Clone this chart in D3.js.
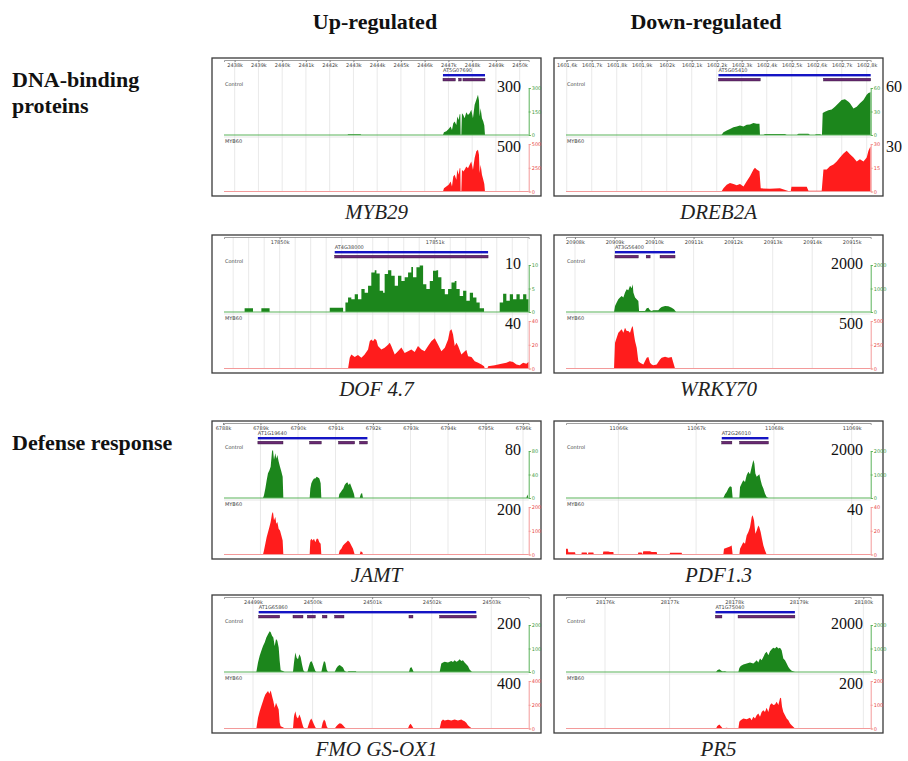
<!DOCTYPE html>
<html>
<head>
<meta charset="utf-8">
<script src="https://cdn.jsdelivr.net/npm/d3@7"></script>
<style>
  body { margin: 0; background: #fff; }
  svg { display: block; }
  .head { font-family: "Liberation Serif", serif; font-weight: bold; font-size: 22px; fill: #111; }
  .gene { font-family: "Liberation Serif", serif; font-style: italic; font-size: 21px; fill: #222; }
  .big { font-family: "Liberation Serif", serif; font-size: 16px; fill: #111; }
  .tiny { font-family: "DejaVu Sans", sans-serif; font-size: 5px; fill: #444; }
</style>
</head>
<body>
<svg id="fig" width="908" height="761"></svg>
<script>
// ---- data ----
var geneNames = ["MYB29", "DREB2A", "DOF 4.7", "WRKY70", "JAMT", "PDF1.3", "FMO GS-OX1", "PR5"];
var locusIds = ["AT5G07690", "AT5G05410", "AT4G38000", "AT3G56400", "AT1G19640", "AT2G26010", "AT1G65860", "AT1G75040"];
var controlMax = [300, 60, 10, 2000, 80, 2000, 200, 2000];
var myb60Max = [500, 30, 40, 500, 200, 40, 400, 200];

// visible window of each browser view, kb
var viewRange = [[2437.55, 2450.38], [1601.597, 1602.816], [17849.641, 17851.606], [20907.772, 20915.479],
                 [6788.027, 6796.151], [11065.327, 11069.245], [24498.513, 24503.628], [28175.396, 28180.114]];

var tickLabels = [
  ["2438k","2439k","2440k","2441k","2442k","2443k","2444k","2445k","2446k","2447k","2448k","2449k","2450k"],
  ["1601,6k","1601,7k","1601,8k","1601,9k","1602k","1602,1k","1602,2k","1602,3k","1602,4k","1602,5k","1602,6k","1602,7k","1602,8k"],
  ["17850k","17851k"],
  ["20908k","20909k","20910k","20911k","20912k","20913k","20914k","20915k"],
  ["6788k","6789k","6790k","6791k","6792k","6793k","6794k","6795k","6796k"],
  ["11066k","11067k","11068k","11069k"],
  ["24499k","24500k","24501k","24502k","24503k"],
  ["28176k","28177k","28178k","28179k","28180k"]
];
var gridStep = [1, 0.1, 0.1, 1, 1, 1, 1, 1];

var geneSpan = [[2446.77, 2448.54], [1602.207, 1602.816], [17850.355, 17851.344], [20909.01, 20910.53],
                [6788.93, 6791.85], [11067.33, 11067.93], [24499.095, 24502.748], [28177.71, 28178.94]];
var exonSpans = [
  [[2446.77, 2447.29], [2447.43, 2447.54], [2447.61, 2448.54]],
  [[1602.207, 1602.374], [1602.627, 1602.816]],
  [[17850.355, 17851.344]],
  [[20909.01, 20909.60], [20909.80, 20909.90], [20910.15, 20910.53]],
  [[6788.93, 6789.60], [6790.31, 6790.62], [6791.08, 6791.51], [6791.64, 6791.85]],
  [[11067.33, 11067.46], [11067.56, 11067.93]],
  [[24499.095, 24499.448], [24499.671, 24499.839], [24499.912, 24500.046], [24500.164, 24500.242],
   [24500.371, 24500.527], [24501.618, 24501.685], [24502.133, 24502.748]],
  [[28177.71, 28177.81], [28178.06, 28178.94]]
];

// coverage tracks: [kb, reads]
var myb29Control = [[2442.75,0],[2442.78,4],[2443.30,4],[2443.33,0],
  [2446.770,0],[2446.812,17],[2446.911,24],[2447.009,39],[2447.093,54],[2447.149,32],[2447.205,75],[2447.261,86],
  [2447.332,64],[2447.374,118],[2447.430,96],[2447.472,133],[2447.500,133],[2447.514,0],[2447.542,0],[2447.570,139],
  [2447.626,128],[2447.682,107],[2447.753,146],[2447.823,128],[2447.893,139],[2447.963,161],[2448.033,107],[2448.104,193],
  [2448.174,225],[2448.244,257],[2448.286,220],[2448.314,118],[2448.356,171],[2448.412,107],[2448.468,86],[2448.511,60],[2448.539,0]];
var myb29Myb60 = [[2446.770,0],[2446.812,35],[2446.911,53],[2447.009,70],[2447.093,106],[2447.149,53],[2447.205,158],[2447.261,176],
  [2447.332,123],[2447.374,229],[2447.430,176],[2447.472,246],[2447.500,246],[2447.514,0],[2447.542,0],[2447.570,229],
  [2447.626,211],[2447.682,229],[2447.753,264],[2447.823,246],[2447.893,282],[2447.963,317],[2448.033,229],[2448.104,352],
  [2448.174,423],[2448.244,440],[2448.286,387],[2448.314,194],[2448.356,282],[2448.412,176],[2448.468,123],[2448.511,80],[2448.539,0]];

var dreb2aControl = [[1602.219,0],[1602.227,3.5],[1602.240,5.6],[1602.253,7.8],[1602.267,10],[1602.280,10.9],[1602.293,12.2],
  [1602.307,10.9],[1602.320,13],[1602.333,13.5],[1602.347,15.2],[1602.360,14.3],[1602.371,14.3],[1602.373,0],[1602.387,0],
  [1602.393,1.3],[1602.473,1.3],[1602.480,0],[1602.520,0],[1602.527,1.7],[1602.567,1.7],[1602.573,0],[1602.593,0],[1602.597,1],
  [1602.613,1],[1602.619,0],[1602.621,0],[1602.624,28],[1602.633,29.6],[1602.647,31.7],[1602.660,32.6],[1602.673,36],
  [1602.687,40.4],[1602.700,44.8],[1602.713,45.7],[1602.727,42.6],[1602.733,40.4],[1602.747,33.9],[1602.760,36],
  [1602.773,40.4],[1602.787,44.8],[1602.800,51.3],[1602.807,53.5],[1602.813,54.3],[1602.816,55]];
var dreb2aMyb60 = [[1602.219,0],[1602.227,2.1],[1602.240,4.3],[1602.253,5.4],[1602.267,4.7],[1602.280,3.9],[1602.293,4.7],
  [1602.307,3.2],[1602.320,6.4],[1602.333,9.6],[1602.347,13.9],[1602.353,15],[1602.360,13.9],[1602.371,12.8],[1602.376,2],
  [1602.413,1.7],[1602.453,2],[1602.483,0.4],[1602.496,0],[1602.499,3],[1602.560,3],[1602.567,0.4],[1602.620,0.4],
  [1602.627,13.9],[1602.640,13.9],[1602.653,16],[1602.667,17],[1602.680,19],[1602.693,21.4],[1602.707,24],[1602.720,25.7],
  [1602.733,23.5],[1602.747,21.4],[1602.760,19],[1602.773,20.3],[1602.787,19],[1602.800,21.4],[1602.807,25.7],
  [1602.813,27.8],[1602.816,28.3]];

var dofControl = [[17849.774,0.8],[17849.828,0],[17849.882,0.8],[17849.935,0],[17850.323,0.9],[17850.409,0],[17850.424,2.0],
  [17850.441,3.1],[17850.462,2.7],[17850.484,3.8],[17850.505,2.7],[17850.527,4.9],[17850.548,4.1],[17850.570,5.6],
  [17850.591,8.4],[17850.613,8.9],[17850.624,8.2],[17850.645,4.5],[17850.667,4.1],[17850.677,8.1],[17850.699,8.9],
  [17850.720,7.7],[17850.742,5.6],[17850.763,7.7],[17850.785,6.6],[17850.806,7.4],[17850.828,8.4],[17850.849,9.6],
  [17850.860,7.4],[17850.882,9.5],[17850.903,9.9],[17850.925,5.9],[17850.946,4.9],[17850.968,6.6],[17850.989,8.8],
  [17851.011,8.9],[17851.022,7.4],[17851.043,4.9],[17851.065,3.8],[17851.086,4.9],[17851.108,6.3],[17851.129,6.6],
  [17851.140,4.9],[17851.161,3.4],[17851.183,4.5],[17851.204,2.4],[17851.226,4.1],[17851.247,3.1],[17851.269,2.0],
  [17851.290,0.8],[17851.318,0],[17851.419,2.0],[17851.441,3.9],[17851.462,2.4],[17851.484,3.8],[17851.505,2.7],
  [17851.527,3.8],[17851.548,2.7],[17851.570,3.8],[17851.591,2.7],[17851.606,2.7]];
var dofMyb60 = [[17850.441,0],[17850.452,9],[17850.462,11.8],[17850.484,9.6],[17850.505,11.3],[17850.527,9],[17850.548,11.8],
  [17850.570,16],[17850.581,23],[17850.591,24.5],[17850.602,23],[17850.613,25],[17850.624,23.7],[17850.634,19],[17850.656,16],
  [17850.677,17.5],[17850.699,20],[17850.710,21.7],[17850.720,19],[17850.742,11.8],[17850.763,14.6],[17850.785,17.7],
  [17850.806,13],[17850.828,14.6],[17850.849,16],[17850.871,14],[17850.892,19],[17850.914,16],[17850.935,14.6],
  [17850.957,19],[17850.978,23],[17851.000,25.4],[17851.022,20],[17851.043,14.6],[17851.065,17.5],[17851.086,24.5],
  [17851.097,31.5],[17851.108,33],[17851.118,28.7],[17851.129,19],[17851.140,21.7],[17851.151,19],[17851.172,11.8],
  [17851.194,14.6],[17851.204,15.5],[17851.215,10.4],[17851.237,9.6],[17851.258,6.2],[17851.280,4.8],[17851.301,3.4],
  [17851.318,2],[17851.323,0],[17851.340,0],[17851.344,2],[17851.387,2.8],[17851.430,4],[17851.462,4.8],[17851.484,6.2],
  [17851.505,5.4],[17851.527,3.4],[17851.548,2.8],[17851.570,4.8],[17851.591,4],[17851.606,5.6]];

var wrky70Control = [[20908.987,0],[20909.012,257],[20909.054,400],[20909.096,543],[20909.138,614],[20909.180,686],
  [20909.223,614],[20909.265,829],[20909.307,971],[20909.349,929],[20909.391,1114],[20909.433,1014],[20909.459,1186],
  [20909.476,829],[20909.518,614],[20909.560,543],[20909.602,471],[20909.620,40],[20909.771,43],[20909.813,157],
  [20909.855,186],[20909.897,71],[20909.939,43],[20909.981,71],[20910.108,71],[20910.150,157],[20910.192,214],
  [20910.277,257],[20910.361,243],[20910.445,186],[20910.504,114],[20910.555,0]];
var wrky70Myb60 = [[20908.987,0],[20909.012,271],[20909.054,324],[20909.096,377],[20909.138,394],[20909.180,412],
  [20909.223,377],[20909.265,429],[20909.307,394],[20909.349,394],[20909.391,377],[20909.433,429],[20909.459,447],
  [20909.493,352],[20909.518,289],[20909.560,218],[20909.602,77],[20909.644,60],[20909.728,42],[20909.813,113],
  [20909.855,120],[20909.897,60],[20909.939,42],[20909.981,35],[20910.066,42],[20910.150,95],[20910.192,113],
  [20910.277,123],[20910.361,113],[20910.445,120],[20910.487,60],[20910.530,0]];

var jamtControl = [[6789.067,0],[6789.093,4.6],[6789.129,16],[6789.164,30],[6789.200,42],[6789.236,47],[6789.271,53],
  [6789.307,79],[6789.333,82],[6789.360,65],[6789.396,76],[6789.422,67],[6789.449,73],[6789.484,62],[6789.520,53],
  [6789.556,45],[6789.591,36],[6789.609,0],[6790.311,0],[6790.329,16],[6790.356,25],[6790.391,30],[6790.427,33],
  [6790.462,33],[6790.498,36],[6790.533,35],[6790.569,33],[6790.604,25],[6790.622,0],[6791.084,0],[6791.102,7],
  [6791.138,10],[6791.173,13],[6791.209,16],[6791.244,22],[6791.280,25],[6791.316,27],[6791.351,22],[6791.387,25],
  [6791.422,19],[6791.458,13],[6791.493,7],[6791.511,0],[6791.644,0],[6791.671,6],[6791.707,9],[6791.733,0],
  [6796.089,0],[6796.116,6],[6796.142,0]];
var jamtMyb60 = [[6789.067,0],[6789.093,17],[6789.129,45],[6789.164,73],[6789.200,94],[6789.236,115],[6789.271,137],
  [6789.307,172],[6789.333,179],[6789.360,144],[6789.396,158],[6789.422,130],[6789.449,137],[6789.484,108],[6789.520,101],
  [6789.556,80],[6789.591,59],[6789.609,0],[6790.311,0],[6790.329,59],[6790.356,66],[6790.391,59],[6790.427,66],
  [6790.462,52],[6790.498,66],[6790.533,66],[6790.569,52],[6790.604,45],[6790.622,0],[6791.084,0],[6791.111,17],
  [6791.156,24],[6791.200,38],[6791.244,45],[6791.289,52],[6791.333,59],[6791.378,52],[6791.422,38],[6791.467,24],
  [6791.511,0],[6791.644,0],[6791.671,14],[6791.716,10],[6791.733,0]];

var pdfControl = [[11067.350,0],[11067.372,157],[11067.393,257],[11067.414,400],[11067.436,500],[11067.457,471],
  [11067.470,0],[11067.556,0],[11067.565,471],[11067.586,614],[11067.607,757],[11067.629,686],[11067.650,971],
  [11067.672,1114],[11067.693,1014],[11067.715,1329],[11067.736,1614],[11067.749,1471],[11067.762,1043],[11067.779,900],
  [11067.800,971],[11067.813,1014],[11067.830,757],[11067.847,543],[11067.865,400],[11067.886,186],[11067.907,43],
  [11067.929,0]];
var pdfMyb60 = [[11065.327,4.8],[11065.350,4.8],[11065.357,2],[11065.443,2],[11065.450,0],[11065.525,0],[11065.529,1.7],
  [11065.593,1.7],[11065.600,0],[11065.610,0],[11065.614,1.7],[11065.679,1.7],[11065.685,0],[11065.800,0],[11065.807,2.5],
  [11065.871,2.5],[11065.893,2.2],[11065.936,2.2],[11065.940,0],[11066.250,0],[11066.257,1.7],[11066.300,1.7],
  [11066.310,0],[11066.321,2.8],[11066.407,2.8],[11066.429,2.2],[11066.493,2.2],[11066.500,0],[11066.660,0],
  [11066.664,1.4],[11066.814,1.4],[11066.820,0],
  [11067.350,0],[11067.359,4.8],[11067.393,5.6],[11067.436,6.8],[11067.457,7.6],[11067.470,0],[11067.556,0],
  [11067.565,4.8],[11067.586,7.6],[11067.607,10.4],[11067.629,9],[11067.650,16],[11067.672,18.9],[11067.693,23],
  [11067.715,31.5],[11067.727,33],[11067.745,28.7],[11067.762,17.5],[11067.779,20.3],[11067.800,24.5],[11067.813,23],
  [11067.830,18.9],[11067.847,13.2],[11067.865,7.6],[11067.886,3.4],[11067.907,0]];

var fmoControl = [[24499.056,0],[24499.084,40],[24499.112,69],[24499.140,90],[24499.168,111],[24499.196,126],
  [24499.224,147],[24499.252,161],[24499.280,173],[24499.297,169],[24499.319,154],[24499.341,147],[24499.364,111],
  [24499.386,140],[24499.408,133],[24499.431,104],[24499.448,47],[24499.464,7],[24499.503,4],[24499.531,0],
  [24499.671,0],[24499.688,40],[24499.710,83],[24499.733,61],[24499.755,54],[24499.778,76],[24499.800,64],[24499.822,33],
  [24499.845,7],[24499.867,0],[24499.912,0],[24499.934,21],[24499.957,40],[24499.979,47],[24500.001,36],[24500.024,19],
  [24500.046,4],[24500.063,0],[24500.147,0],[24500.169,26],[24500.192,47],[24500.214,40],[24500.236,11],[24500.259,0],
  [24500.371,0],[24500.399,16],[24500.427,26],[24500.455,30],[24500.483,24],[24500.510,19],[24500.538,4],[24500.566,0],
  [24500.594,0],[24500.600,3],[24500.728,3],[24500.734,0],[24501.618,0],[24501.635,16],[24501.657,21],[24501.679,11],
  [24501.696,0],[24502.133,0],[24502.161,36],[24502.189,40],[24502.217,44],[24502.273,40],[24502.301,44],[24502.329,47],
  [24502.357,43],[24502.385,50],[24502.413,44],[24502.441,47],[24502.469,54],[24502.497,47],[24502.524,50],[24502.552,40],
  [24502.580,33],[24502.608,26],[24502.636,11],[24502.676,0]];
var fmoMyb60 = [[24499.056,0],[24499.084,90],[24499.112,146],[24499.140,189],[24499.168,231],[24499.185,259],
  [24499.207,287],[24499.229,301],[24499.252,315],[24499.274,293],[24499.297,321],[24499.319,273],[24499.341,231],
  [24499.364,175],[24499.386,217],[24499.408,189],[24499.431,161],[24499.448,48],[24499.464,20],[24499.503,11],
  [24499.531,0],[24499.671,0],[24499.688,104],[24499.710,146],[24499.733,96],[24499.755,84],[24499.778,118],[24499.800,90],
  [24499.822,48],[24499.845,11],[24499.867,0],[24499.912,0],[24499.934,34],[24499.957,68],[24499.979,84],[24500.001,62],
  [24500.024,34],[24500.046,11],[24500.063,0],[24500.147,0],[24500.169,48],[24500.192,76],[24500.214,62],[24500.236,20],
  [24500.259,0],[24500.371,0],[24500.399,20],[24500.427,34],[24500.455,45],[24500.483,39],[24500.510,28],[24500.538,11],
  [24500.566,0],[24501.601,0],[24501.623,28],[24501.646,39],[24501.668,23],[24501.696,0],[24502.133,0],[24502.161,62],
  [24502.189,76],[24502.217,68],[24502.273,73],[24502.329,68],[24502.385,76],[24502.441,68],[24502.497,76],[24502.524,68],
  [24502.552,62],[24502.580,48],[24502.608,28],[24502.636,14],[24502.676,0]];

var pr5Control = [[28177.719,0],[28177.739,71],[28177.770,114],[28177.801,57],[28177.822,20],[28177.858,28],[28177.884,0],
  [28178.065,0],[28178.080,171],[28178.101,257],[28178.142,314],[28178.194,357],[28178.245,400],[28178.297,357],
  [28178.323,429],[28178.348,500],[28178.374,400],[28178.400,571],[28178.426,500],[28178.452,643],[28178.477,786],
  [28178.503,857],[28178.529,714],[28178.555,886],[28178.581,971],[28178.606,1029],[28178.632,1000],[28178.658,1071],
  [28178.684,1000],[28178.710,1029],[28178.735,929],[28178.761,571],[28178.787,500],[28178.813,357],[28178.839,214],
  [28178.865,114],[28178.890,57],[28178.942,0]];
var pr5Myb60 = [[28177.719,0],[28177.739,11],[28177.770,17],[28177.801,7],[28177.822,0],[28177.884,3],[28177.935,0],
  [28178.065,0],[28178.080,28],[28178.101,35],[28178.142,42],[28178.194,39],[28178.245,45],[28178.271,35],[28178.297,49],
  [28178.323,42],[28178.348,56],[28178.374,63],[28178.400,49],[28178.426,70],[28178.452,77],[28178.477,70],[28178.503,87],
  [28178.529,70],[28178.555,99],[28178.581,106],[28178.606,99],[28178.632,101],[28178.658,113],[28178.684,99],
  [28178.710,127],[28178.725,130],[28178.741,92],[28178.761,70],[28178.787,56],[28178.813,42],[28178.839,35],
  [28178.865,21],[28178.890,14],[28178.942,0]];

var controlTracks = [myb29Control, dreb2aControl, dofControl, wrky70Control, jamtControl, pdfControl, fmoControl, pr5Control];
var myb60Tracks = [myb29Myb60, dreb2aMyb60, dofMyb60, wrky70Myb60, jamtMyb60, pdfMyb60, fmoMyb60, pr5Myb60];

// ---- layout ----
var svg = d3.select("#fig");
var panelW = 329, panelH = 138;
var colX = [212, 554], rowY = [58, 235, 421, 595];

svg.append("text").attr("class", "head").attr("x", 375).attr("y", 29).attr("text-anchor", "middle").text("Up-regulated");
svg.append("text").attr("class", "head").attr("x", 706).attr("y", 29).attr("text-anchor", "middle").text("Down-regulated");
svg.append("text").attr("class", "head").attr("x", 12).attr("y", 87).text("DNA-binding");
svg.append("text").attr("class", "head").attr("x", 12).attr("y", 113).text("proteins");
svg.append("text").attr("class", "head").attr("x", 12).attr("y", 450).text("Defense response");

geneNames.forEach(function(name, i) {
    var x0 = colX[i % 2], y0 = rowY[Math.floor(i / 2)];
    var left = x0 + 12, right = x0 + 316.7;
    var g = svg.append("g");

    g.append("rect")
        .attr("x", x0).attr("y", y0).attr("width", panelW).attr("height", panelH)
        .attr("fill", "#fff").attr("stroke", "#3a3a3a").attr("stroke-width", 1.3);

    var x = d3.scaleLinear().domain(viewRange[i]).range([left, right]);
    var yC = d3.scaleLinear().domain([0, controlMax[i]]).range([y0 + 77, y0 + 30]);
    var yM = d3.scaleLinear().domain([0, myb60Max[i]]).range([y0 + 133.5, y0 + 86]);

    // grid
    var step = gridStep[i];
    var grid = d3.range(Math.ceil(viewRange[i][0] / step - 1e-6), Math.floor(viewRange[i][1] / step + 1e-6) + 1)
        .map(function(k) { return k * step; });
    g.selectAll("line.grid").data(grid).enter().append("line")
        .attr("x1", function(d) { return x(d); }).attr("x2", function(d) { return x(d); })
        .attr("y1", y0 + 2).attr("y2", y0 + 133.5)
        .attr("stroke", "#e3e3e3").attr("stroke-width", 0.8);

    g.append("line").attr("x1", left).attr("x2", right).attr("y1", y0 + 79).attr("y2", y0 + 79)
        .attr("stroke", "#e0e0e0").attr("stroke-width", 0.8);

    // top ruler
    var ticks = tickLabels[i].map(function(t) { return +t.replace(",", ".").replace("k", ""); });
    var top = g.append("g").attr("transform", "translate(0," + (y0 + 2) + ")")
        .call(d3.axisBottom(x).tickValues(ticks)
            .tickFormat(function(d, j) { return tickLabels[i][j]; })
            .tickSize(2).tickPadding(1.5));
    top.select(".domain").attr("stroke", "#888").attr("stroke-width", 0.8);
    top.selectAll(".tick line").attr("stroke", "#888");
    top.selectAll("text").attr("class", "tiny").attr("font-size", null).attr("font-family", null);

    // gene model
    g.append("text").attr("class", "tiny").attr("x", x(geneSpan[i][0])).attr("y", y0 + 14).text(locusIds[i]);
    g.append("rect")
        .attr("x", x(geneSpan[i][0])).attr("y", y0 + 16)
        .attr("width", x(geneSpan[i][1]) - x(geneSpan[i][0])).attr("height", 2.4)
        .attr("fill", "#1414c4");
    g.selectAll("rect.exon").data(exonSpans[i]).enter().append("rect")
        .attr("x", function(d) { return x(d[0]); }).attr("y", y0 + 20.2)
        .attr("width", function(d) { return x(d[1]) - x(d[0]); }).attr("height", 2.8)
        .attr("fill", "#6a2a74").attr("stroke", "#2b1030").attr("stroke-width", 0.4);

    g.append("text").attr("class", "tiny").attr("x", left + 1).attr("y", y0 + 28).text("Control");
    g.append("text").attr("class", "tiny").attr("x", left + 1).attr("y", y0 + 85).text("MYB60");

    // coverage areas
    var clipId = "clip" + i;
    g.append("clipPath").attr("id", clipId).append("rect")
        .attr("x", left).attr("y", y0).attr("width", right - left).attr("height", panelH);

    var areaC = d3.area()
        .x(function(d) { return x(d[0]); })
        .y0(yC(0)).y1(function(d) { return yC(d[1]); })
        .curve(i === 2 ? d3.curveStepAfter : d3.curveLinear);
    var areaM = d3.area()
        .x(function(d) { return x(d[0]); })
        .y0(yM(0)).y1(function(d) { return yM(d[1]); });

    g.append("path").attr("d", areaC(controlTracks[i])).attr("fill", "#1c861c")
        .attr("clip-path", "url(#" + clipId + ")");
    g.append("path").attr("d", areaM(myb60Tracks[i])).attr("fill", "#ff1c1c")
        .attr("clip-path", "url(#" + clipId + ")");

    g.append("line").attr("x1", left).attr("x2", right).attr("y1", yC(0)).attr("y2", yC(0))
        .attr("stroke", "#5bb35b").attr("stroke-width", 1);
    g.append("line").attr("x1", left).attr("x2", right).attr("y1", yM(0)).attr("y2", yM(0))
        .attr("stroke", "#f39a9a").attr("stroke-width", 1);

    // right scales
    var axC = g.append("g").attr("transform", "translate(" + right + ",0)")
        .call(d3.axisRight(yC).tickValues([0, controlMax[i] / 2, controlMax[i]])
            .tickFormat(d3.format("~g")).tickSize(2).tickPadding(1));
    axC.selectAll("path, line").attr("stroke", "#5bb35b");
    axC.selectAll("text").attr("class", "tiny").attr("font-size", null).attr("font-family", null)
        .style("fill", "#3c9a3c");
    var axM = g.append("g").attr("transform", "translate(" + right + ",0)")
        .call(d3.axisRight(yM).tickValues([0, myb60Max[i] / 2, myb60Max[i]])
            .tickFormat(d3.format("~g")).tickSize(2).tickPadding(1));
    axM.selectAll("path, line").attr("stroke", "#f39a9a");
    axM.selectAll("text").attr("class", "tiny").attr("font-size", null).attr("font-family", null)
        .style("fill", "#e84848");

    // scale maxima written on the figure
    var numX = i === 1 ? x0 + 348 : x0 + 309;
    svg.append("text").attr("class", "big").attr("x", numX).attr("y", y0 + 34)
        .attr("text-anchor", "end").text(controlMax[i]);
    svg.append("text").attr("class", "big").attr("x", numX).attr("y", y0 + 94)
        .attr("text-anchor", "end").text(myb60Max[i]);

    svg.append("text").attr("class", "gene").attr("x", x0 + panelW / 2).attr("y", y0 + 161)
        .attr("text-anchor", "middle").text(name);
});
</script>
</body>
</html>
